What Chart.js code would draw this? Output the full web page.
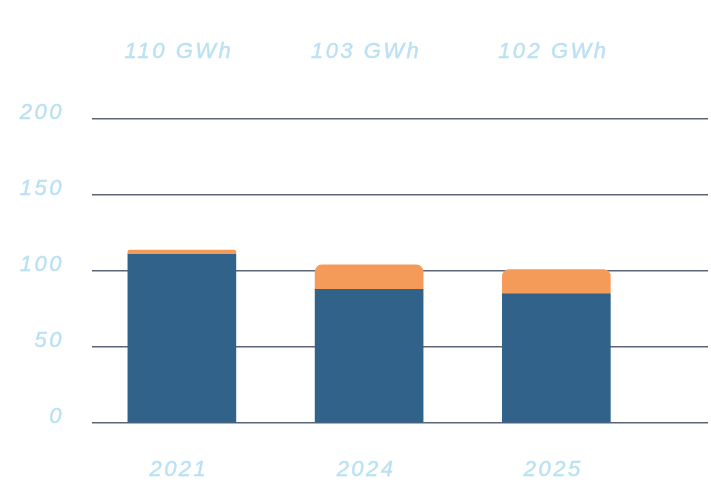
<!DOCTYPE html>
<html>
<head>
<meta charset="utf-8">
<script src="https://cdn.jsdelivr.net/npm/chart.js@4"></script>
<style>
  html, body { margin: 0; padding: 0; background: #fff; }
  #wrap { width: 711px; height: 494px; }
</style>
</head>
<body>
<div id="wrap"><canvas id="chart"></canvas></div>
<script>
// data
const years = ["2021", "2024", "2025"];
const baseValues = [111, 88, 85];      // dark blue part
const extraValues = [2.8, 16, 16];     // orange part
const totalLabels = ["110 GWh", "103 GWh", "102 GWh"];
const yTicks = [0, 50, 100, 150, 200];

const BLUE = "#31628a";
const ORANGE = "#f59b5a";
const TEXT = "#bae1f3";
const GRID = "#5d6475";
const FONT = "italic 22px 'Liberation Sans', Arial, sans-serif";

// all labels drawn here so they get letter spacing
const textPlugin = {
    id: "texts",
    afterDraw(chart) {
        const ctx = chart.ctx;
        const x = chart.scales.x;
        const y = chart.scales.y;
        ctx.save();
        ctx.font = FONT;
        ctx.fillStyle = TEXT;
        ctx.strokeStyle = TEXT;
        ctx.lineWidth = 0.4;
        ctx.letterSpacing = "2.5px";

        // y tick labels, a bit above their line
        ctx.textAlign = "right";
        ctx.textBaseline = "middle";
        yTicks.forEach(v => {
            const py = y.getPixelForValue(v) - 6;
            ctx.fillText(String(v), 64, py);
            ctx.strokeText(String(v), 64, py);
        });

        // categories below, totals above
        ctx.textAlign = "center";
        years.forEach((yr, i) => {
            const px = x.getPixelForValue(i);
            ctx.fillText(yr, px - 3, 470);
            ctx.strokeText(yr, px - 3, 470);
            ctx.fillText(totalLabels[i], px - 3, 52);
            ctx.strokeText(totalLabels[i], px - 3, 52);
        });
        ctx.restore();
    }
};

new Chart(document.getElementById("chart"), {
    type: "bar",
    data: {
        datasets: [{
            label: "base",
            data: baseValues.map((v, i) => ({ x: i, y: v })),
            backgroundColor: BLUE,
            barThickness: 108,
            borderRadius: 3,
            borderSkipped: "bottom"
        }, {
            label: "extra",
            data: extraValues.map((v, i) => ({ x: i, y: v })),
            backgroundColor: ORANGE,
            barThickness: 108,
            borderRadius: { topLeft: 7, topRight: 7 },
            borderSkipped: false
        }]
    },
    options: {
        responsive: true,
        maintainAspectRatio: false,
        animation: false,
        layout: { padding: { left: 92, right: 3, top: 119, bottom: 63 } },
        plugins: {
            legend: { display: false },
            tooltip: { enabled: false }
        },
        scales: {
            x: {
                type: "linear",
                stacked: true,
                offset: false,
                min: -0.48,
                max: 2.81,
                grid: { display: false },
                border: { display: false },
                ticks: { display: false }
            },
            y: {
                stacked: true,
                min: 0,
                max: 200,
                afterBuildTicks: s => { s.ticks = yTicks.map(v => ({ value: v })); },
                grid: { color: GRID, lineWidth: 1.5, drawTicks: false },
                border: { display: false },
                ticks: { display: false }
            }
        }
    },
    plugins: [textPlugin]
});
</script>
</body>
</html>
